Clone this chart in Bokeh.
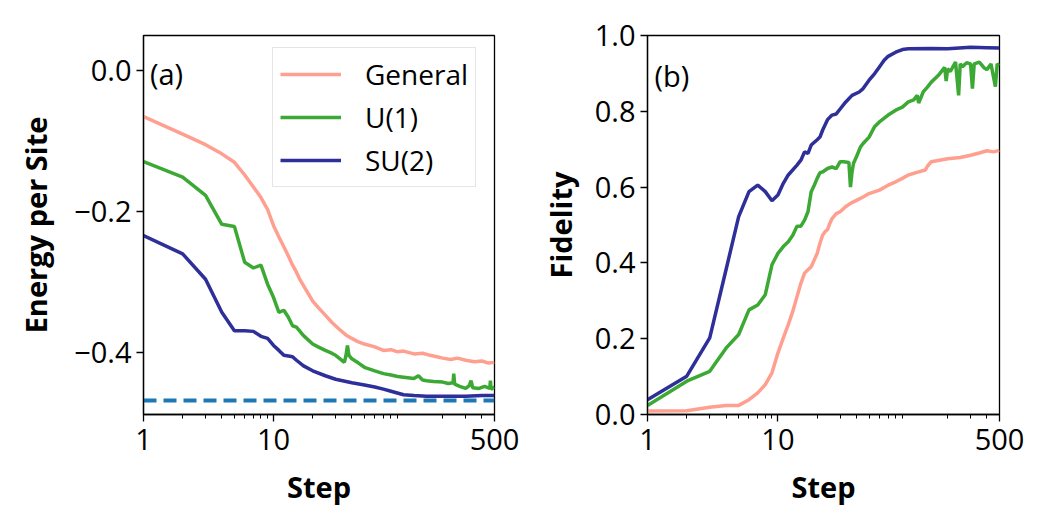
from bokeh.plotting import figure
from bokeh.layouts import row
from bokeh.models import (Range1d, FixedTicker, CustomJSTickFormatter, Legend,
                          LegendItem, Label)
from bokeh.embed import file_html
from bokeh.resources import INLINE

# ---------------- data: left panel (energy per site) ----------------
gen_e_x = [1, 2, 3, 4, 5, 6, 7, 8, 9, 10, 11, 12, 13, 14, 15, 16, 18, 20, 22, 25,
           28, 32, 36, 40, 45, 50, 60, 70, 80, 90, 100, 120, 140, 160, 180, 200,
           230, 260, 300, 350, 400, 450, 500]
gen_e_y = [-0.065, -0.090, -0.105, -0.118, -0.130, -0.148, -0.165, -0.180, -0.197, -0.220,
           -0.236, -0.250, -0.263, -0.276, -0.286, -0.297, -0.313, -0.327, -0.336, -0.347,
           -0.357, -0.367, -0.375, -0.380, -0.385, -0.388, -0.392, -0.397, -0.396, -0.399,
           -0.398, -0.402, -0.401, -0.404, -0.406, -0.408, -0.410, -0.408, -0.411, -0.413,
           -0.412, -0.415, -0.414]

u1_e_x = [1, 2, 3, 4, 5, 6, 7, 8, 9, 10, 11, 12, 13, 14, 15, 17, 20, 22, 25, 28,
          30, 33, 35, 36, 37, 38, 40, 45, 50, 60, 70, 80, 90, 100, 120, 130, 140, 150,
          170, 200, 220, 240, 243, 247, 270, 300, 320, 330, 340, 380, 420, 460, 465,
          470, 500]
u1_e_y = [-0.129, -0.151, -0.177, -0.218, -0.221, -0.272, -0.280, -0.276, -0.303, -0.322,
          -0.343, -0.340, -0.350, -0.362, -0.364, -0.376, -0.388, -0.392, -0.397, -0.401,
          -0.404, -0.410, -0.414, -0.405, -0.390, -0.404, -0.409, -0.415, -0.421, -0.426,
          -0.430, -0.432, -0.434, -0.435, -0.437, -0.433, -0.439, -0.440, -0.441, -0.442,
          -0.444, -0.443, -0.430, -0.445, -0.448, -0.451, -0.447, -0.440, -0.450, -0.451,
          -0.448, -0.451, -0.440, -0.452, -0.449]

su2_e_x = [1, 2, 3, 4, 5, 6, 7, 8, 9, 10, 11, 12, 13, 14, 15, 17, 20, 25, 30, 40,
           50, 60, 70, 80, 100, 120, 150, 200, 300, 400, 500]
su2_e_y = [-0.234, -0.260, -0.296, -0.343, -0.369, -0.369, -0.370, -0.377, -0.380, -0.390,
           -0.397, -0.404, -0.405, -0.406, -0.411, -0.419, -0.426, -0.433, -0.438, -0.443,
           -0.446, -0.449, -0.452, -0.455, -0.460, -0.461, -0.462, -0.462, -0.462, -0.461,
           -0.461]

ground_x = [1, 500]
ground_y = [-0.468, -0.468]

# ---------------- data: right panel (fidelity) ----------------
gen_f_x = [1, 2, 3, 4, 5, 6, 7, 8, 9, 10, 11, 12, 13, 14, 15, 16, 17, 18, 19, 20,
           21, 22, 23, 24, 25, 26, 28, 30, 33, 36, 40, 45, 50, 60, 70, 80, 90, 100,
           120, 135, 140, 150, 200, 250, 300, 350, 400, 450, 500]
gen_f_y = [0.009, 0.010, 0.019, 0.024, 0.024, 0.039, 0.057, 0.079, 0.110, 0.162,
           0.202, 0.237, 0.272, 0.311, 0.346, 0.373, 0.382, 0.390, 0.408, 0.425,
           0.452, 0.473, 0.482, 0.488, 0.504, 0.517, 0.530, 0.535, 0.548, 0.557,
           0.565, 0.574, 0.583, 0.592, 0.605, 0.614, 0.623, 0.632, 0.640, 0.645,
           0.655, 0.667, 0.675, 0.678, 0.684, 0.690, 0.696, 0.693, 0.697]

u1_f_x = [1, 2, 3, 4, 5, 6, 7, 8, 9, 10, 11, 12, 13, 14, 15, 16, 17, 18, 19, 20,
          21, 22, 24, 26, 28, 30, 32, 35, 36, 37, 38, 40, 43, 45, 50, 55, 60, 70, 80,
          90, 100, 110, 117, 120, 130, 140, 150, 170, 190, 195, 200, 210, 230, 243,
          250, 260, 280, 300, 310, 320, 350, 380, 400, 430, 465, 480, 500]
u1_f_y = [0.024, 0.088, 0.114, 0.175, 0.211, 0.276, 0.289, 0.316, 0.395, 0.425,
          0.443, 0.456, 0.473, 0.497, 0.497, 0.513, 0.535, 0.588, 0.605, 0.623,
          0.638, 0.640, 0.649, 0.653, 0.649, 0.667, 0.667, 0.665, 0.600, 0.640,
          0.663, 0.680, 0.706, 0.715, 0.732, 0.759, 0.772, 0.790, 0.803, 0.811,
          0.825, 0.830, 0.842, 0.822, 0.851, 0.864, 0.877, 0.895, 0.916, 0.880,
          0.912, 0.905, 0.930, 0.842, 0.925, 0.918, 0.928, 0.925, 0.860, 0.925,
          0.930, 0.915, 0.910, 0.925, 0.865, 0.925, 0.920]

su2_f_x = [1, 2, 3, 4, 5, 6, 7, 8, 9, 10, 11, 12, 14, 15, 16, 17, 18, 20, 21, 22,
           24, 26, 28, 30, 33, 37, 42, 45, 50, 55, 60, 65, 70, 80, 90, 100, 150, 200,
           300, 400, 500]
su2_f_y = [0.039, 0.101, 0.202, 0.382, 0.522, 0.588, 0.605, 0.588, 0.564, 0.579,
           0.610, 0.632, 0.658, 0.671, 0.693, 0.689, 0.711, 0.725, 0.732, 0.750,
           0.778, 0.790, 0.793, 0.806, 0.824, 0.842, 0.851, 0.860, 0.882, 0.899,
           0.917, 0.934, 0.945, 0.956, 0.963, 0.965, 0.966, 0.965, 0.969, 0.968,
           0.967]

series_names = ["General", "U(1)", "SU(2)"]
x_ticks = [1, 10, 500]
x_minor = [2, 3, 4, 5, 6, 7, 8, 9, 20, 30, 40, 50, 60, 70, 80, 90, 200, 300, 400]
left_y_ticks = [-0.4, -0.2, 0.0]
right_y_ticks = [0.0, 0.2, 0.4, 0.6, 0.8, 1.0]

C_GEN = "#ff9f8f"
C_U1 = "#3ca935"
C_SU2 = "#2e2f98"
C_GS = "#1f77b4"

FONT = "Open Sans"
TICK_SIZE = "29px"
LABEL_SIZE = "29px"


def style(p, yticks):
    p.xaxis.ticker = FixedTicker(ticks=x_ticks, minor_ticks=x_minor)
    p.yaxis.ticker = FixedTicker(ticks=yticks, minor_ticks=[])
    p.xaxis.formatter = CustomJSTickFormatter(code="return String(Math.round(tick));")
    p.yaxis.formatter = CustomJSTickFormatter(code="""
        const s = Math.abs(tick).toFixed(1);
        return (tick < -1e-9 ? '\\u2212' : '') + s;
    """)
    for ax in (p.xaxis, p.yaxis):
        ax.major_label_text_font = FONT
        ax.major_label_text_font_size = TICK_SIZE
        ax.major_label_text_color = "black"
        ax.axis_label_text_font = FONT
        ax.axis_label_text_font_size = LABEL_SIZE
        ax.axis_label_text_font_style = "bold"
        ax.axis_label_text_color = "black"
        ax.axis_line_color = "black"
        ax.axis_line_width = 1.3
        ax.major_tick_line_color = "black"
        ax.major_tick_line_width = 1.3
        ax.minor_tick_line_color = "black"
        ax.minor_tick_line_width = 1.0
        ax.major_tick_in = 0
        ax.major_tick_out = 7
        ax.minor_tick_in = 0
        ax.minor_tick_out = 4
    p.xaxis.major_label_standoff = 7
    p.yaxis.major_label_standoff = 5
    p.xaxis.axis_label_standoff = 14
    p.yaxis.axis_label_standoff = 12
    p.xgrid.visible = False
    p.ygrid.visible = False
    p.outline_line_color = "black"
    p.outline_line_width = 1.3
    p.outline_line_alpha = 1.0
    p.background_fill_color = "white"
    p.border_fill_color = "white"


# ---------------- left figure ----------------
p1 = figure(width=525, height=525, x_axis_type="log",
            x_range=Range1d(1, 500), y_range=Range1d(-0.488, 0.05),
            output_backend="svg", toolbar_location=None,
            min_border_left=143, min_border_right=31,
            min_border_top=35, min_border_bottom=111)
style(p1, left_y_ticks)
p1.yaxis.axis_label_standoff = 16
p1.xaxis.axis_label = "Step"
p1.yaxis.axis_label = "Energy per Site"

p1.line(ground_x, ground_y, line_color=C_GS, line_width=4, line_dash="13 7")
r_gen = p1.line(gen_e_x, gen_e_y, line_color=C_GEN, line_width=3.5)
r_u1 = p1.line(u1_e_x, u1_e_y, line_color=C_U1, line_width=3.5)
r_su2 = p1.line(su2_e_x, su2_e_y, line_color=C_SU2, line_width=3.5)

legend = Legend(items=[LegendItem(label=series_names[0], renderers=[r_gen]),
                       LegendItem(label=series_names[1], renderers=[r_u1]),
                       LegendItem(label=series_names[2], renderers=[r_su2])],
                location=(129, 227))
legend.label_text_font = FONT
legend.label_text_font_size = "28px"
legend.label_text_color = "black"
legend.glyph_width = 61
legend.glyph_height = 30
legend.label_height = 30
legend.label_standoff = 24
legend.spacing = 5
legend.padding = 7
legend.margin = 0
legend.border_line_color = "#cccccc"
legend.border_line_width = 1.5
legend.background_fill_alpha = 0.85
p1.add_layout(legend, "center")

p1.add_layout(Label(x=1.12, y=-0.004, text="(a)", text_font=FONT,
                    text_font_size="29px", text_baseline="middle",
                    text_color="black"))

# ---------------- right figure ----------------
p2 = figure(width=525, height=525, x_axis_type="log",
            x_range=Range1d(1, 500), y_range=Range1d(0, 1),
            output_backend="svg", toolbar_location=None,
            min_border_left=122, min_border_right=51,
            min_border_top=35, min_border_bottom=110)
style(p2, right_y_ticks)
p2.xaxis.axis_label = "Step"
p2.yaxis.axis_label = "Fidelity"

p2.line(gen_f_x, gen_f_y, line_color=C_GEN, line_width=3.5)
p2.line(u1_f_x, u1_f_y, line_color=C_U1, line_width=3.5)
p2.line(su2_f_x, su2_f_y, line_color=C_SU2, line_width=3.5)

p2.add_layout(Label(x=1.13, y=0.895, text="(b)", text_font=FONT,
                    text_font_size="29px", text_baseline="middle",
                    text_color="black"))

layout = row(p1, p2)
open("out.html", "w").write(file_html(layout, INLINE))
